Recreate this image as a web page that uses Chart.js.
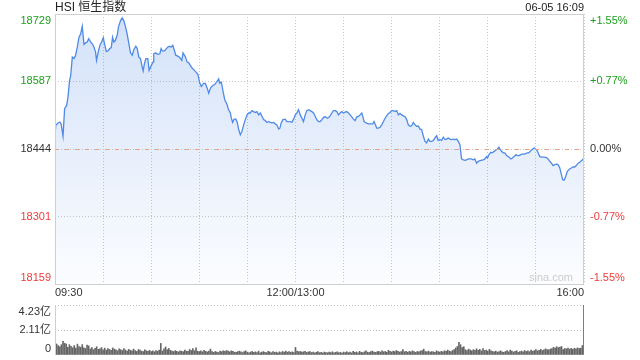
<!DOCTYPE html>
<html>
<head>
<meta charset="utf-8">
<script src="https://cdn.jsdelivr.net/npm/chart.js@4"></script>
<style>
body { margin: 0; background: #fff; }
#wrap { position: relative; width: 640px; height: 360px; }
#priceChart { position: absolute; left: 0; top: 0; }
#volChart { position: absolute; left: 0; top: 300px; }
</style>
</head>
<body>
<div id="wrap">
  <canvas id="priceChart" width="640" height="300"></canvas>
  <canvas id="volChart" width="640" height="60"></canvas>
</div>
<script>
// === DATOS ===
const titulo = "HSI 恒生指数";
const fechaHora = "06-05 16:09";
const prevClose = 18444;

// minutos desde 09:30 (12:00/13:00 = 150, 16:00 = 330)
const minutos = [
  0,0.4,1.9,3.1,3.9,5.0,6.0,7.3,8.1,9.1,9.8,10.8,11.8,12.7,13.9,14.9,16.0,17.0,18.1,19.1,
  20.1,21.0,22.2,23.5,24.3,25.3,25.9,27.0,28.0,29.1,30.1,30.9,32.0,33.0,34.2,35.1,35.9,36.7,37.6,38.8,
  39.6,40.9,41.9,43.0,44.0,45.0,46.1,47.1,48.2,49.2,50.4,51.3,52.3,53.3,54.4,55.0,55.8,56.7,57.9,58.7,
  60.0,61.2,61.6,62.7,64.1,65.4,66.2,67.0,68.3,69.5,70.4,71.6,72.4,73.5,74.5,75.3,76.6,77.8,79.1,79.9,
  81.4,82.4,83.4,85.5,87.6,89.2,90.3,91.3,92.8,93.8,94.9,95.9,97.1,98.4,99.6,101.1,102.1,102.7,103.8,104.8,
  105.9,107.3,108.3,109.4,110.0,110.8,111.7,112.9,113.7,114.6,115.6,116.6,117.7,118.7,119.8,120.8,121.8,122.9,123.9,125.0,
  126.0,127.0,128.1,129.1,130.1,131.2,132.2,133.3,134.3,135.3,136.4,137.4,138.4,139.5,140.3,141.1,142.2,143.6,144.7,145.7,
  146.7,147.8,148.8,149.9,150.9,151.9,153.0,154.0,155.0,156.1,157.1,158.2,159.2,160.2,161.3,162.3,163.3,164.4,165.4,166.5,
  167.5,168.5,170.0,171.2,172.7,173.7,174.8,175.8,176.8,177.9,178.9,180.0,181.0,182.0,183.1,184.1,185.1,186.2,187.2,188.3,
  189.3,190.3,191.4,192.0,192.8,194.1,195.5,197.0,198.2,199.0,199.9,200.7,201.7,202.8,203.8,204.9,205.9,206.9,208.0,209.0,
  210.0,211.1,212.1,213.2,214.2,215.2,216.3,217.3,218.4,219.4,220.4,221.5,222.5,223.5,224.6,225.6,226.7,227.7,228.7,229.8,
  230.8,231.8,232.9,233.9,235.0,236.0,237.0,238.1,239.1,240.1,241.2,242.2,243.3,244.3,245.3,246.4,247.4,248.4,249.5,250.5,
  251.6,252.6,253.6,254.7,256.1,257.8,259.4,260.9,261.9,263.0,264.0,265.7,267.1,268.2,269.2,269.8,270.7,271.9,272.9,274.0,
  274.8,276.0,276.9,277.7,278.5,279.6,280.6,281.7,283.1,284.4,285.4,286.4,287.5,288.5,289.5,290.6,291.6,292.7,293.7,294.5,
  295.6,296.4,297.6,298.9,299.7,300.3,301.4,302.4,303.9,305.1,306.6,307.6,308.6,309.7,310.7,311.8,312.8,313.8,314.9,315.9,
  316.7,317.6,318.6,319.6,321.1,322.1,323.2,324.2,325.2,326.3,327.3,328.8,329.4,330
];

const precios = [
  18487,18494,18499,18501,18496,18471,18529,18536,18554,18589,18599,18638,18635,18640,18659,18679,18687,18703,18665,18668,
  18670,18677,18670,18665,18659,18649,18631,18649,18663,18670,18679,18666,18650,18651,18656,18658,18680,18670,18673,18684,
  18702,18715,18721,18714,18702,18687,18666,18647,18642,18654,18661,18656,18638,18635,18617,18609,18624,18635,18635,18610,
  18620,18628,18645,18647,18644,18645,18656,18651,18651,18656,18659,18661,18659,18663,18652,18642,18640,18637,18631,18647,
  18638,18628,18626,18615,18608,18601,18583,18576,18583,18582,18573,18562,18573,18578,18580,18587,18592,18583,18585,18566,
  18548,18538,18527,18520,18509,18500,18507,18507,18500,18485,18474,18481,18495,18506,18516,18520,18520,18525,18523,18521,
  18523,18516,18520,18513,18506,18504,18500,18502,18500,18499,18500,18497,18495,18486,18488,18499,18506,18507,18502,18502,
  18502,18500,18507,18516,18520,18527,18516,18509,18502,18516,18525,18527,18525,18523,18520,18513,18506,18502,18502,18506,
  18511,18512,18509,18512,18520,18525,18525,18523,18516,18520,18523,18520,18522,18523,18520,18516,18512,18507,18504,18512,
  18513,18516,18520,18513,18502,18499,18497,18497,18497,18502,18495,18488,18488,18490,18495,18502,18509,18514,18519,18521,
  18525,18525,18523,18525,18516,18519,18516,18514,18512,18506,18495,18492,18493,18500,18495,18492,18492,18486,18485,18471,
  18460,18457,18465,18460,18460,18462,18467,18472,18462,18464,18462,18469,18464,18465,18467,18465,18464,18465,18464,18465,
  18460,18453,18423,18421,18420,18423,18423,18421,18423,18414,18418,18420,18421,18423,18428,18425,18432,18437,18436,18439,
  18441,18444,18448,18443,18439,18436,18436,18430,18427,18423,18425,18428,18432,18430,18430,18432,18433,18433,18434,18436,
  18436,18439,18443,18446,18444,18443,18436,18428,18427,18427,18426,18423,18418,18414,18409,18411,18412,18411,18404,18390,
  18379,18378,18386,18397,18402,18404,18406,18406,18409,18414,18416,18420,18423,18424
];

// volumen por minuto (亿), índice = minuto desde 09:30
const volumen = [
  2.20,
  0.93,0.79,0.70,0.87,1.15,0.99,0.93,0.65,0.87,0.74,
  0.62,0.80,0.58,0.92,0.71,0.66,0.88,0.60,0.55,0.83,
  0.77,0.51,0.62,0.45,0.57,0.70,0.48,0.52,0.63,0.44,
  0.58,0.41,0.55,0.47,0.39,0.60,0.50,0.43,0.36,0.52,
  0.45,0.38,0.55,0.42,0.33,0.48,0.40,0.35,0.50,0.37,
  0.30,0.46,0.41,0.33,0.28,0.44,0.36,0.31,0.40,0.29,
  0.35,0.27,0.38,0.32,0.41,0.98,0.34,0.52,0.68,0.45,
  0.55,0.40,0.33,0.29,0.37,0.30,0.26,0.35,0.31,0.28,
  0.42,0.33,0.30,0.47,0.38,0.55,0.36,0.60,0.32,0.29,
  0.35,0.27,0.40,0.31,0.26,0.33,0.50,0.28,0.22,0.30,
  0.25,0.21,0.34,0.28,0.36,0.30,0.38,0.33,0.27,0.35,
  0.31,0.24,0.22,0.29,0.33,0.26,0.20,0.28,0.35,0.24,
  0.19,0.25,0.30,0.22,0.27,0.21,0.33,0.18,0.24,0.29,
  0.23,0.20,0.31,0.26,0.19,0.28,0.22,0.25,0.18,0.27,
  0.21,0.30,0.24,0.33,0.24,0.29,0.22,0.27,0.20,0.64,
  0.33,0.28,0.30,0.24,0.27,0.31,0.22,0.26,0.29,0.21,
  0.25,0.18,0.23,0.28,0.20,0.22,0.17,0.25,0.21,0.19,
  0.24,0.20,0.27,0.18,0.22,0.26,0.19,0.23,0.17,0.25,
  0.21,0.28,0.20,0.24,0.18,0.30,0.22,0.26,0.19,0.31,
  0.23,0.20,0.27,0.35,0.24,0.21,0.29,0.33,0.25,0.22,
  0.28,0.31,0.24,0.36,0.27,0.30,0.23,0.40,0.32,0.26,
  0.33,0.28,0.38,0.31,0.25,0.29,0.45,0.27,0.32,0.24,
  0.30,0.26,0.35,0.28,0.22,0.30,0.27,0.34,0.38,0.50,
  0.30,0.26,0.33,0.24,0.29,0.27,0.22,0.35,0.28,0.25,
  0.31,0.27,0.36,0.30,0.42,0.33,0.28,0.38,0.45,0.60,
  0.72,1.07,0.87,0.62,0.70,0.45,0.38,0.50,0.42,0.36,
  0.45,0.39,0.52,0.40,0.48,0.35,0.55,0.38,0.42,0.33,
  0.48,0.36,0.30,0.27,0.33,0.24,0.29,0.35,0.26,0.22,
  0.30,0.38,0.27,0.42,0.33,0.25,0.30,0.36,0.22,0.28,
  0.33,0.26,0.38,0.30,0.35,0.28,0.41,0.32,0.37,0.45,
  0.35,0.40,0.48,0.38,0.43,0.52,0.46,0.44,0.50,0.55,
  0.65,0.58,0.70,0.62,0.68,0.72,0.45,0.55,0.52,0.58,
  0.50,0.56,0.48,0.57,0.53,0.60,0.55,0.58,0.80,4.30
];

// etiquetas de ejes
const yTicks = [18159, 18301, 18444, 18587, 18729];
const yLabels = ["18159", "18301", "18444", "18587", "18729"];
const pctLabels = ["-1.55%", "-0.77%", "0.00%", "+0.77%", "+1.55%"];
const xTicks = [0, 150, 330];
const xLabels = ["09:30", "12:00/13:00", "16:00"];
const volTicks = [0, 2.11, 4.23];
const volLabels = ["0", "2.11亿", "4.23亿"];

// === ESTILO ===
const fuente = '"Liberation Sans", Arial, "Noto Sans CJK SC", sans-serif';
const verde = "#1ea01e";
const rojo = "#f03a3a";
const gris = "#333";
const gridMin = [];
for (let m = 0; m <= 330; m += 30) gridMin.push(m);

// === PLUGIN: marco, etiquetas y línea de cierre ===
const etiquetasPrecio = {
    id: "etiquetasPrecio",
    afterDatasetsDraw(chart) {
        const { ctx, chartArea: a, scales: { x, y } } = chart;
        ctx.save();

        // línea de cierre anterior
        const py0 = Math.round(y.getPixelForValue(prevClose)) + 0.5;
        ctx.strokeStyle = "#e8a080";
        ctx.lineWidth = 1;
        ctx.setLineDash([4, 6]);
        ctx.beginPath();
        ctx.moveTo(a.left, py0);
        ctx.lineTo(a.right, py0);
        ctx.stroke();
        ctx.setLineDash([]);

        // marco
        ctx.strokeStyle = "#cfcfcf";
        ctx.strokeRect(a.left + 0.5, a.top + 0.5, a.right - a.left - 1, a.bottom - a.top);

        // eje y izquierdo y derecho
        ctx.font = "11px " + fuente;
        ctx.textBaseline = "middle";
        yTicks.forEach((v, i) => {
            let py = y.getPixelForValue(v);
            if (i === 0) py -= 6;
            if (i === yTicks.length - 1) py += 6.5;
            ctx.fillStyle = v > prevClose ? verde : (v < prevClose ? rojo : gris);
            ctx.textAlign = "right";
            ctx.fillText(yLabels[i], a.left - 4, py);
            ctx.textAlign = "left";
            ctx.fillText(pctLabels[i], a.right + 6, py);
        });

        // eje x
        ctx.fillStyle = gris;
        xTicks.forEach((m, i) => {
            const px = x.getPixelForValue(m);
            ctx.textAlign = i === 0 ? "left" : (i === xTicks.length - 1 ? "right" : "center");
            ctx.fillText(xLabels[i], px, a.bottom + 9);
        });

        // título y fecha
        ctx.font = "12px " + fuente;
        ctx.textAlign = "left";
        ctx.fillStyle = "#222";
        ctx.fillText(titulo, a.left, 7.5);
        ctx.font = "11px " + fuente;
        ctx.textAlign = "right";
        ctx.fillText(fechaHora, a.right, 7.5);

        // marca de agua
        ctx.fillStyle = "#cccccc";
        ctx.fillText("sina.com", a.right - 11, a.bottom - 6);

        ctx.restore();
    }
};

const etiquetasVol = {
    id: "etiquetasVol",
    afterDraw(chart) {
        const { ctx, chartArea: a, scales: { y } } = chart;
        ctx.save();
        ctx.strokeStyle = "#cfcfcf";
        ctx.beginPath();
        ctx.moveTo(a.left + 0.5, a.top);
        ctx.lineTo(a.left + 0.5, a.bottom);
        ctx.stroke();

        ctx.font = "11px " + fuente;
        ctx.textBaseline = "middle";
        ctx.textAlign = "right";
        ctx.fillStyle = gris;
        volTicks.forEach((v, i) => {
            let py = y.getPixelForValue(v);
            if (i === 0) py -= 6;
            if (i === volTicks.length - 1) py += 7;
            ctx.fillText(volLabels[i], a.left - 4, py);
        });
        ctx.restore();
    }
};

// === CHART PRECIO ===
const ctxP = document.getElementById("priceChart").getContext("2d");
new Chart(ctxP, {
    type: "line",
    data: {
        datasets: [{
            data: minutos.map((m, i) => ({ x: m, y: precios[i] })),
            borderColor: "#4f8ae6",
            borderWidth: 1.3,
            pointRadius: 0,
            tension: 0,
            fill: "start",
            backgroundColor: (c) => {
                const area = c.chart.chartArea;
                if (!area) return "rgba(70,130,230,0.15)";
                const g = c.chart.ctx.createLinearGradient(0, area.top, 0, area.bottom);
                g.addColorStop(0, "rgba(70,130,230,0.24)");
                g.addColorStop(1, "rgba(70,130,230,0.02)");
                return g;
            }
        }]
    },
    options: {
        responsive: false,
        animation: false,
        layout: { padding: { left: 55, right: 56, top: 14, bottom: 16 } },
        plugins: { legend: { display: false }, tooltip: { enabled: false } },
        scales: {
            x: {
                type: "linear",
                min: 0,
                max: 330,
                afterBuildTicks: s => { s.ticks = gridMin.map(v => ({ value: v })); },
                afterFit: s => { s.height = 0; },
                ticks: { display: false },
                grid: { color: "#c8c8c8", lineWidth: 1, drawTicks: false },
                border: { display: false, dash: [1, 2] }
            },
            y: {
                min: yTicks[0],
                max: yTicks[yTicks.length - 1],
                afterBuildTicks: s => { s.ticks = yTicks.map(v => ({ value: v })); },
                afterFit: s => { s.width = 0; },
                ticks: { display: false },
                grid: { color: "#c8c8c8", lineWidth: 1, drawTicks: false },
                border: { display: false, dash: [1, 2] }
            }
        }
    },
    plugins: [etiquetasPrecio]
});

// === CHART VOLUMEN ===
const ctxV = document.getElementById("volChart").getContext("2d");
new Chart(ctxV, {
    type: "bar",
    data: {
        datasets: [{
            data: volumen.map((v, i) => ({ x: i, y: v })),
            backgroundColor: "#666",
            barThickness: 1
        }]
    },
    options: {
        responsive: false,
        animation: false,
        layout: { padding: { left: 55, right: 56, top: 5, bottom: 5 } },
        plugins: { legend: { display: false }, tooltip: { enabled: false } },
        scales: {
            x: {
                type: "linear",
                min: 0,
                max: 330,
                offset: false,
                afterFit: s => { s.height = 0; },
                ticks: { display: false },
                grid: { display: false },
                border: { display: false }
            },
            y: {
                min: 0,
                max: volTicks[volTicks.length - 1],
                afterBuildTicks: s => { s.ticks = volTicks.map(v => ({ value: v })); },
                afterFit: s => { s.width = 0; },
                ticks: { display: false },
                grid: {
                    color: c => c.tick && c.tick.value === 0 ? "rgba(0,0,0,0)" : "#bdbdbd",
                    drawTicks: false
                },
                border: { display: false, dash: [1, 2] }
            }
        }
    },
    plugins: [etiquetasVol]
});
</script>
</body>
</html>
